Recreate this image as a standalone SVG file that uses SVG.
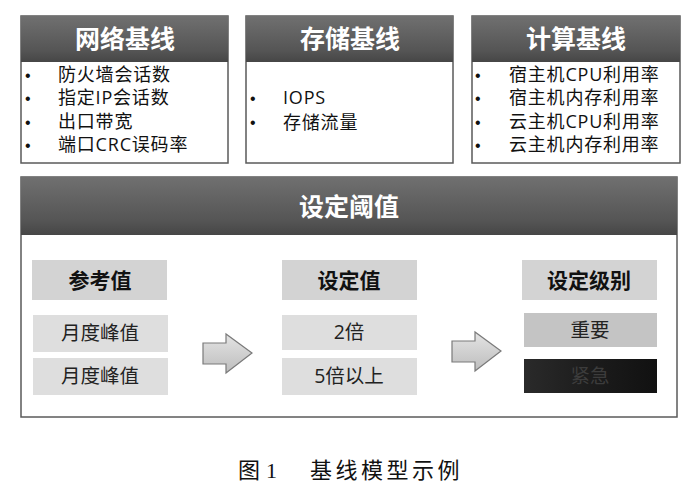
<svg xmlns="http://www.w3.org/2000/svg" width="700" height="503" viewBox="0 0 700 503">
<defs>
<linearGradient id="hdr" x1="0" y1="0" x2="0" y2="1">
<stop offset="0" stop-color="#707070"/>
<stop offset="0.75" stop-color="#555555"/>
<stop offset="1" stop-color="#464646"/>
</linearGradient>
<linearGradient id="arr" x1="0" y1="0" x2="0" y2="1">
<stop offset="0" stop-color="#e4e4e4"/>
<stop offset="1" stop-color="#bdbdbd"/>
</linearGradient>
<linearGradient id="dark" x1="0" y1="0" x2="1" y2="0">
<stop offset="0" stop-color="#2a2a2a"/>
<stop offset="0.5" stop-color="#1c1c1c"/>
<stop offset="1" stop-color="#111111"/>
</linearGradient>
<path id="arrowShape" d="M0,9 H23 V0 L49,19 L23,39 V30 H0 Z"/>
</defs>
<style>
.frame{fill:#ffffff;stroke:#5a5a5a;stroke-width:1.5}
.hdr{fill:url(#hdr)}
.ht{font-family:"Noto Sans CJK SC",sans-serif;font-weight:bold;font-size:25px;fill:#ffffff;text-anchor:middle}
.li{font-family:"Open Sans","Noto Sans CJK SC",sans-serif;font-size:18px;letter-spacing:0.8px;fill:#111111}
.bul{font-family:"Liberation Sans",sans-serif;font-size:16px;fill:#111111}
.sh{fill:#d3d3d3}
.sv{fill:#dedede}
.st{font-family:"Noto Sans CJK SC",sans-serif;font-weight:bold;font-size:21px;fill:#111111;text-anchor:middle}
.vt{font-family:"Open Sans","Noto Sans CJK SC",sans-serif;font-size:19.5px;fill:#222222;text-anchor:middle}
.arrow{fill:url(#arr);stroke:#7a7a7a;stroke-width:1.2}
.cap{font-family:"Noto Sans CJK SC",sans-serif;font-size:22px;fill:#111111}
</style>

<g id="network-baseline">
<rect class="frame" x="21" y="16" width="207" height="147"/>
<rect class="hdr" x="21" y="16" width="207" height="46"/>
<text class="ht" x="125" y="48">网络基线</text>
<text class="bul" x="25" y="81">•</text>
<text class="bul" x="25" y="104">•</text>
<text class="bul" x="25" y="128">•</text>
<text class="bul" x="25" y="151">•</text>
<text class="li" x="58" y="81">防火墙会话数</text>
<text class="li" x="58" y="104">指定IP会话数</text>
<text class="li" x="58" y="128">出口带宽</text>
<text class="li" x="58" y="151">端口CRC误码率</text>
</g>

<g id="storage-baseline">
<rect class="frame" x="246" y="16" width="207" height="147"/>
<rect class="hdr" x="246" y="16" width="207" height="46"/>
<text class="ht" x="350" y="48">存储基线</text>
<text class="bul" x="250" y="104">•</text>
<text class="bul" x="250" y="128">•</text>
<text class="li" x="283" y="104">IOPS</text>
<text class="li" x="283" y="129">存储流量</text>
</g>

<g id="compute-baseline">
<rect class="frame" x="472" y="16" width="208" height="147"/>
<rect class="hdr" x="472" y="16" width="208" height="46"/>
<text class="ht" x="576" y="48">计算基线</text>
<text class="bul" x="475" y="81">•</text>
<text class="bul" x="475" y="104">•</text>
<text class="bul" x="475" y="128">•</text>
<text class="bul" x="475" y="151">•</text>
<text class="li" x="509" y="81">宿主机CPU利用率</text>
<text class="li" x="509" y="104">宿主机内存利用率</text>
<text class="li" x="509" y="128">云主机CPU利用率</text>
<text class="li" x="509" y="151">云主机内存利用率</text>
</g>

<g id="set-threshold">
<rect class="frame" x="21" y="177" width="656" height="240"/>
<rect class="hdr" x="21" y="177" width="656" height="58"/>
<text class="ht" x="349" y="216">设定阈值</text>
</g>

<g id="reference-value">
<rect class="sh" x="32" y="260" width="135" height="40"/>
<text class="st" x="100" y="288">参考值</text>
<rect class="sv" x="33" y="315" width="135" height="37"/>
<text class="vt" x="100" y="340">月度峰值</text>
<rect class="sv" x="33" y="358" width="135" height="37"/>
<text class="vt" x="100" y="383">月度峰值</text>
</g>

<g id="set-value">
<rect class="sh" x="282" y="260" width="135" height="40"/>
<text class="st" x="349" y="288">设定值</text>
<rect class="sv" x="282" y="315" width="135" height="35"/>
<text class="vt" x="349" y="339">2倍</text>
<rect class="sv" x="282" y="358" width="135" height="37"/>
<text class="vt" x="349" y="383">5倍以上</text>
</g>

<g id="set-level">
<rect class="sh" x="522" y="260" width="135" height="40"/>
<text class="st" x="589" y="288">设定级别</text>
<rect fill="#c4c4c4" x="524" y="313" width="133" height="34"/>
<text class="vt" x="590" y="337">重要</text>
<rect fill="url(#dark)" x="524" y="359" width="133" height="34"/>
<text class="vt" x="590" y="383" style="fill:#3c3c3c">紧急</text>
</g>

<g id="connectors">
<use href="#arrowShape" class="arrow" transform="translate(203,334)"/>
<use href="#arrowShape" class="arrow" transform="translate(452,332)"/>
</g>

<g id="caption">
<text class="cap" x="238" y="478">图</text>
<text x="266" y="478" style="font-family:'Liberation Serif',serif;font-size:22px;fill:#111111">1</text>
<text class="cap" x="310" y="478" letter-spacing="3.5">基线模型示例</text>
</g>
</svg>
